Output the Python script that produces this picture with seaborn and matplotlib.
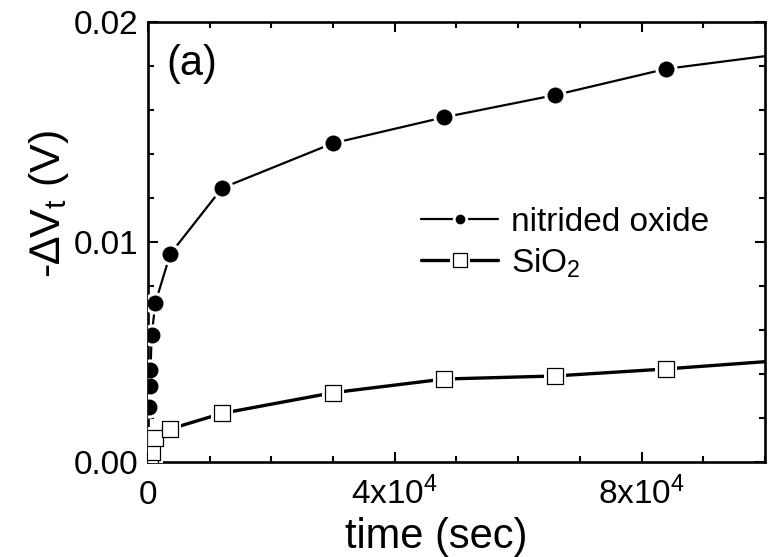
import matplotlib
matplotlib.use("Agg")
import matplotlib.pyplot as plt
import pandas as pd
import seaborn as sns
from matplotlib.lines import Line2D
from matplotlib.ticker import MultipleLocator

# values
time_nitrided = [200, 300, 400, 600, 1200, 3600, 12000, 30000, 48000, 66000, 84000, 102000]
dvt_nitrided = [0.00251, 0.00345, 0.00418, 0.00577, 0.00724, 0.00945, 0.01245,
                0.01449, 0.01567, 0.01668, 0.01787, 0.01852]
time_sio2 = [300, 600, 1200, 3600, 12000, 30000, 48000, 66000, 84000, 102000]
dvt_sio2 = [0.00011, 0.00047, 0.00108, 0.0015, 0.00221, 0.00315, 0.00377,
            0.00391, 0.00423, 0.0046]

xtick_vals = [0, 40000, 80000]
xtick_labels = ['0', '4x10$^\\mathregular{4}$', '8x10$^\\mathregular{4}$']
ytick_vals = [0.0, 0.01, 0.02]
ytick_labels = ['0.00', '0.01', '0.02']
labels = ['nitrided oxide', 'SiO$_\\mathregular{2}$']

sns.set_theme(style='ticks')
plt.rcParams['font.family'] = ['Liberation Sans', 'DejaVu Sans']
plt.rcParams['mathtext.fontset'] = 'custom'
plt.rcParams['mathtext.rm'] = 'Liberation Sans'
plt.rcParams['mathtext.it'] = 'Liberation Sans:italic'
plt.rcParams['mathtext.bf'] = 'Liberation Sans:bold'
plt.rcParams['text.color'] = 'black'
plt.rcParams['axes.labelcolor'] = 'black'

df_n = pd.DataFrame({'time': time_nitrided, 'dvt': dvt_nitrided})
df_s = pd.DataFrame({'time': time_sio2, 'dvt': dvt_sio2})

fig = plt.figure(figsize=(7.72, 5.57), dpi=100)
ax = fig.add_axes([0.1917, 0.1706, 0.7992, 0.7899])

# nitrided oxide: thin line, filled circles with a small gap
sns.lineplot(data=df_n, x='time', y='dvt', ax=ax, color='black', lw=1.6,
             sort=False, estimator=None, zorder=2)
sns.scatterplot(data=df_n, x='time', y='dvt', ax=ax, marker='o', s=16**2,
                color='white', linewidth=0, zorder=3)
sns.scatterplot(data=df_n, x='time', y='dvt', ax=ax, marker='o', s=11.5**2,
                color='black', linewidth=0, zorder=4)

# SiO2: thicker line, open squares
sns.lineplot(data=df_s, x='time', y='dvt', ax=ax, color='black', lw=2.4,
             sort=False, estimator=None, zorder=2)
sns.scatterplot(data=df_s, x='time', y='dvt', ax=ax, marker='s', s=16**2,
                color='white', linewidth=0, zorder=3)
sns.scatterplot(data=df_s, x='time', y='dvt', ax=ax, marker='s', s=12**2,
                facecolor='white', edgecolor='black', linewidth=0.9, zorder=4)

ax.set_xlim(0, 100000)
ax.set_ylim(0, 0.02)
ax.set_xticks(xtick_vals, xtick_labels)
ax.set_yticks(ytick_vals, ytick_labels)
ax.xaxis.set_minor_locator(MultipleLocator(10000))
ax.yaxis.set_minor_locator(MultipleLocator(0.002))
ax.tick_params(which='both', direction='in', top=True, right=True,
               width=1.5, colors='black', labelsize=24)
ax.tick_params(which='major', length=7)
ax.tick_params(which='minor', length=4)
ax.tick_params(axis='x', pad=30)
for lab in ax.get_xticklabels():
    lab.set_va('baseline')
ax.tick_params(axis='y', pad=7)
for sp in ax.spines.values():
    sp.set_linewidth(1.9)
    sp.set_color('black')

ax.set_xlabel('time (sec)', fontsize=30)
ax.set_ylabel('-\u2206V$_\\mathregular{t}$ (V)', fontsize=31)
ax.xaxis.set_label_coords(0.467, -0.125)
ax.yaxis.set_label_coords(-0.125, 0.585)

ax.text(0.03, 0.905, '(a)', transform=ax.transAxes, fontsize=30,
        ha='left', va='center')

# legend proxies with the gap round the marker
h1 = (Line2D([], [], color='black', lw=1.6),
      Line2D([], [], ls='', marker='o', ms=11, color='white', mew=0),
      Line2D([], [], ls='', marker='o', ms=7, color='black', mew=0))
h2 = (Line2D([], [], color='black', lw=2.4),
      Line2D([], [], ls='', marker='s', ms=14, color='white', mew=0),
      Line2D([], [], ls='', marker='s', ms=10, mfc='white', mec='black', mew=0.9))
ax.legend([h1, h2], labels, loc='upper left', bbox_to_anchor=(0.443, 0.58),
          frameon=False, fontsize=24, handlelength=2.3, handletextpad=0.4,
          labelspacing=0.25, borderpad=0, borderaxespad=0)

fig.savefig('out.png', dpi=100)
